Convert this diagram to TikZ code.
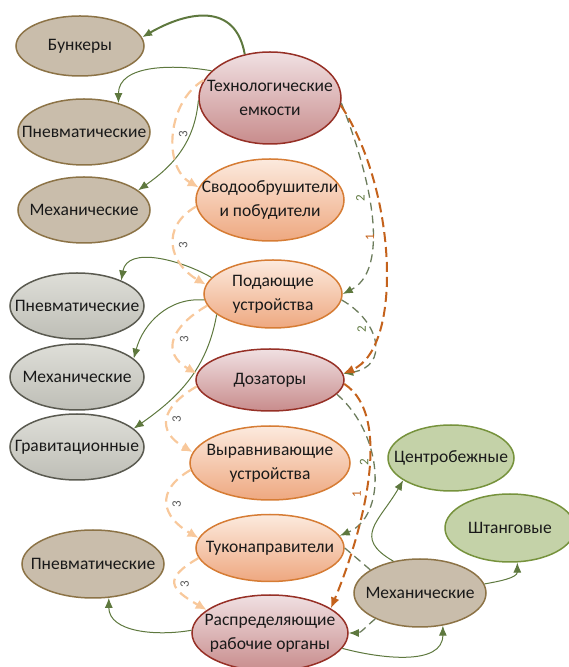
\documentclass[tikz,border=0pt]{standalone}
\usepackage{fontspec}
\setmainfont{Carlito}
\usepackage{graphicx}
\usepackage{xcolor}
\usepackage{tikz}
\usetikzlibrary{arrows.meta,shapes.geometric}
\definecolor{tanfill}{RGB}{201,189,171}
\definecolor{tanline}{RGB}{140,115,70}
\definecolor{graytop}{RGB}{222,222,216}
\definecolor{graybot}{RGB}{190,190,182}
\definecolor{grayline}{RGB}{90,90,80}
\definecolor{leaffill}{RGB}{196,210,168}
\definecolor{leafline}{RGB}{118,146,60}
\definecolor{redtop}{RGB}{240,224,226}
\definecolor{redbot}{RGB}{200,140,140}
\definecolor{redline}{RGB}{150,48,38}
\definecolor{orgtop}{RGB}{252,234,222}
\definecolor{orgbot}{RGB}{238,168,128}
\definecolor{orgline}{RGB}{214,124,52}
\definecolor{linkgreen}{RGB}{94,120,62}
\definecolor{dashgreen}{RGB}{108,124,92}
\definecolor{routeorg}{RGB}{196,98,28}
\definecolor{paleorg}{RGB}{248,200,155}
\definecolor{inkgray}{RGB}{90,90,90}
\definecolor{inkblack}{RGB}{25,25,25}
\newcommand{\vnum}[1]{\rotatebox{90}{#1}}

\begin{document}
\begin{tikzpicture}[x=1pt, y=1pt,
  font=\fontsize{17.5}{24}\selectfont,
  oval/.style={ellipse, inner sep=0pt, line width=1.5pt},
  txt/.style={align=center, text=inkblack},
  tanoval/.style={oval, draw=tanline, fill=tanfill},
  grayoval/.style={oval, draw=grayline, top color=graytop, bottom color=graybot},
  leafoval/.style={oval, draw=leafline, fill=leaffill},
  redoval/.style={oval, draw=redline, top color=redtop, bottom color=redbot},
  orgoval/.style={oval, draw=orgline, top color=orgtop, bottom color=orgbot},
  link/.style={draw=linkgreen, line width=1pt, -{Latex[length=10pt,width=8pt]}},
  hop/.style={draw=dashgreen, line width=1.3pt, dash pattern=on 8pt off 5pt,
    -{Latex[length=10pt,width=8pt,fill=linkgreen,color=linkgreen]}},
  route/.style={draw=routeorg, line width=2pt, dash pattern=on 10pt off 5pt,
    -{Latex[length=11pt,width=9pt]}},
  pale/.style={draw=paleorg, line width=2.2pt, dash pattern=on 10pt off 6pt,
    -{Latex[length=11pt,width=10pt]}},
  bow/.style={out=210, in=150, distance=42},
  num1/.style={text=routeorg, font=\fontsize{13}{13}\selectfont, inner sep=1pt},
  num2/.style={text=linkgreen, fill=white, font=\fontsize{13}{13}\selectfont, inner sep=1pt},
  num3/.style={text=inkgray, font=\fontsize{13}{13}\selectfont, inner sep=1pt, right=3pt}
]
\useasboundingbox (0,0) rectangle (569,667);

% ==========================================
% Storage and feeding (left column)
% ==========================================
\node[tanoval, minimum width=128, minimum height=60, label={[txt]center:Бункеры}] (bunk) at (80,621) {};
\node[tanoval, minimum width=132, minimum height=66, label={[txt]center:Пневматические}] (pneuA) at (84,535) {};
\node[tanoval, minimum width=132, minimum height=66, label={[txt]center:Механические}] (mechA) at (84,457) {};

\node[grayoval, minimum width=134, minimum height=66, label={[txt]center:Пневматические}] (pneuB) at (77,361) {};
\node[grayoval, minimum width=134, minimum height=66, label={[txt]center:Механические}] (mechB) at (77,290) {};
\node[grayoval, minimum width=134, minimum height=66, label={[txt]center:Гравитационные}] (grav) at (77,220) {};

\node[tanoval, minimum width=142, minimum height=68, label={[txt]center:Пневматические}] (pneuC) at (93,103) {};

% ==========================================
% Main chain (centre column)
% ==========================================
\node[redoval, minimum width=142, minimum height=92, label={[txt]center:Технологические\\емкости}] (tank) at (270,569) {};
\node[orgoval, minimum width=148, minimum height=82, label={[txt]center:Сводообрушители\\и побудители}] (arch) at (270,467) {};
\node[orgoval, minimum width=138, minimum height=68, label={[txt]center:Подающие\\устройства}] (feed) at (273,373) {};
\node[redoval, minimum width=148, minimum height=62, label={[txt]center:Дозаторы}] (dose) at (270,287) {};
\node[orgoval, minimum width=160, minimum height=74, label={[txt]center:Выравнивающие\\устройства}] (level) at (270,204) {};
\node[orgoval, minimum width=148, minimum height=67, label={[txt]center:Туконаправители}] (guide) at (270,119) {};
\node[redoval, minimum width=156, minimum height=76, label={[txt]center:Распределяющие\\рабочие органы}] (distr) at (270,34) {};

% ==========================================
% Working organs (right side)
% ==========================================
\node[leafoval, minimum width=126, minimum height=66, label={[txt]center:Центробежные}] (cent) at (451,209) {};
\node[leafoval, minimum width=130, minimum height=68, label={[txt]center:Штанговые}] (rod) at (510,139) {};
\node[tanoval, minimum width=132, minimum height=68, label={[txt]center:Механические}] (mechC) at (420,74) {};

% ==========================================
% Type links (solid green)
% ==========================================
\draw[link, line width=2pt] (tank.120) to[out=100, in=30, looseness=1.3] (bunk.8);
\draw[link] (tank.155) to[out=170, in=90] (pneuA.40);
\draw[link] (tank.182) to[out=-95, in=35] (mechA.20);
\draw[link] (feed.165) to[out=150, in=80] (pneuB.30);
\draw[link] (feed.185) to[out=175, in=75] (mechB.18);
\draw[link] (feed.200) to[out=-100, in=35] (grav.18);
\draw[link] (distr.178) to[out=190, in=-90] (pneuC.-65);
\draw[link] (distr.-12) to[out=-15, in=-90] (mechC.-55);
\draw[link] (mechC.130) to[out=150, in=-120, looseness=1.5] (cent.205);
\draw[link] (mechC.8) to[out=10, in=-90] (rod.-78);

% ==========================================
% Routes 1, 2, 3 (dashed)
% ==========================================
% route 3
\draw[pale] (tank.165) to[bow] node[num3] {\vnum{3}} (arch.170);
\draw[pale] (arch.185) to[bow] node[num3] {\vnum{3}} (feed.172);
\draw[pale] (feed.190) to[bow] node[num3] {\vnum{3}} (dose.175);
\draw[pale] (dose.185) to[bow] node[num3] {\vnum{3}} (level.172);
\draw[pale] (level.185) to[bow] node[num3] {\vnum{3}} (guide.172);
\draw[pale] (guide.188) to[bow] node[num3] {\vnum{3}} (distr.160);

% route 2
\draw[hop] (tank.-4) .. controls +(37,-94) and +(43,22) .. (feed.east) node[pos=.37, left=3pt, num2] {\vnum{2}};
\draw[hop] (feed.-5) .. controls +(39,-22) and +(46,7) .. (dose.5) node[pos=.35, left=3pt, num2] {\vnum{2}};
\draw[hop] (dose.-12) .. controls +(49,-43) and +(46,19) .. (guide.10) node[pos=.43, left=3pt, num2] {\vnum{2}};
\draw[hop, -] (mechC.155) -- (guide.east);
\draw[hop] (mechC.210) to[out=220, in=0] (distr.east);

% route 1
\draw[route] (tank.-6) .. controls +(55,-82) and +(61,26) .. (dose.5) node[pos=.43, left=8pt, num1] {\vnum{1}};
\draw[route] (dose.-3) .. controls +(51,-33) and +(30,72) .. (distr.22) node[pos=.55, left=3pt, num1] {\vnum{1}};

\end{tikzpicture}
\end{document}
